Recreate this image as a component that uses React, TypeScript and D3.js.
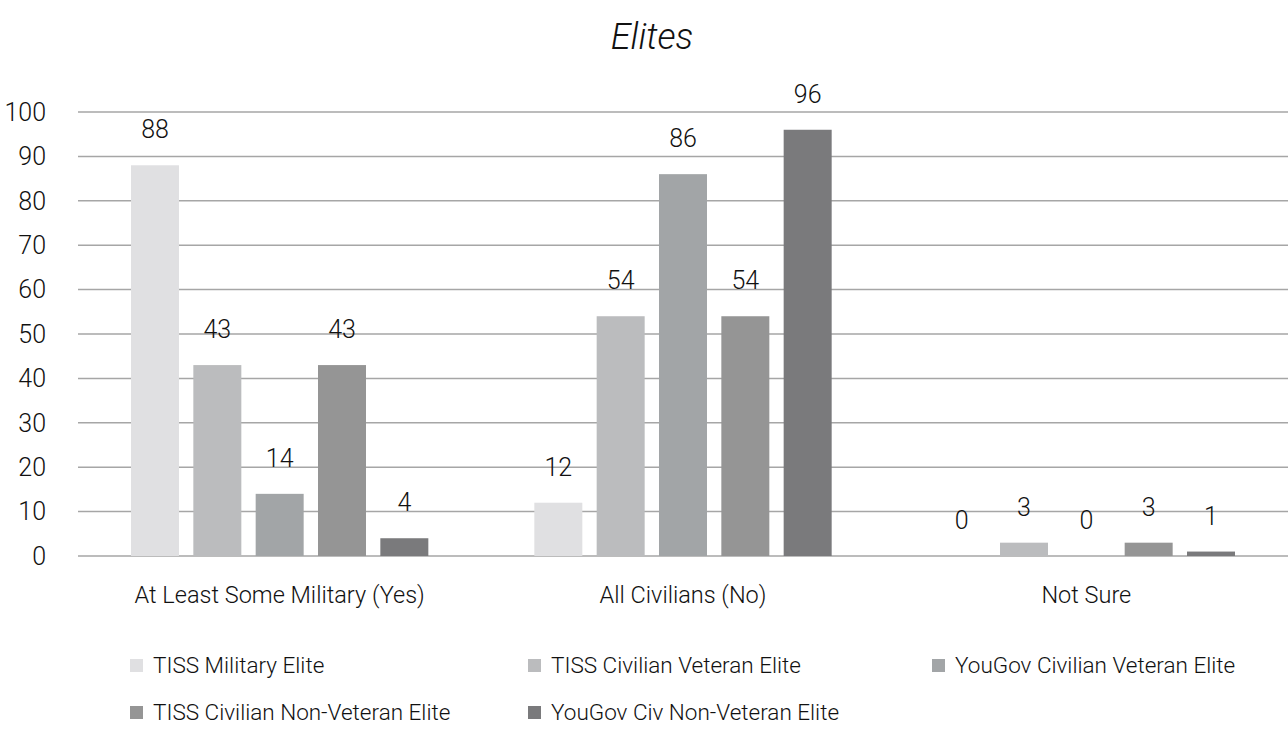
import React from 'react'
import * as d3 from 'd3'

const categories = ['At Least Some Military (Yes)', 'All Civilians (No)', 'Not Sure']
const seriesNames = [
  'TISS Military Elite',
  'TISS Civilian Veteran Elite',
  'YouGov Civilian Veteran Elite',
  'TISS Civilian Non-Veteran Elite',
  'YouGov Civ Non-Veteran Elite',
]
const tissMilitary = [88, 12, 0]
const tissCivVet = [43, 54, 3]
const yougovCivVet = [14, 86, 0]
const tissCivNonVet = [43, 54, 3]
const yougovCivNonVet = [4, 96, 1]
const yTicks = [0, 10, 20, 30, 40, 50, 60, 70, 80, 90, 100]
const colors = ['#e0e0e2', '#bbbcbe', '#a2a5a7', '#959595', '#7a7a7c']

const allSeries = [tissMilitary, tissCivVet, yougovCivVet, tissCivNonVet, yougovCivNonVet]

const W = 1288
const H = 741
const FONT = 'Roboto, "Open Sans", sans-serif'

export default function App() {
  const left = 78
  const right = 1288
  const x = d3.scaleBand().domain(categories).range([left, right]).paddingInner(0).paddingOuter(0)
  const inner = d3
    .scaleBand()
    .domain(seriesNames)
    .range([53, x.bandwidth() - 53])
    .paddingInner(0.23)
    .paddingOuter(0)
  const y = d3.scaleLinear().domain([0, 100]).range([556, 112])

  // legend: [x, y] per entry, three columns then two
  const legendPos = [
    [130, 665],
    [528, 665],
    [932, 665],
    [130, 712],
    [528, 712],
  ]

  return (
    <svg
      width={W}
      height={H}
      style={{ position: 'absolute', left: 0, top: 0, background: '#fff' }}
      fontFamily={FONT}
      fontWeight={300}
    >
      <text x={652} y={49} textAnchor="middle" fontSize={36} fontStyle="italic" fill="#111">
        Elites
      </text>

      {yTicks.map((t) => (
        <g key={t}>
          <line x1={left} x2={right} y1={y(t)} y2={y(t)} stroke="#a6a6a6" strokeWidth={1.5} />
          <text x={46} y={y(t)} dy="0.35em" textAnchor="end" fontSize={25} fill="#111">
            {t}
          </text>
        </g>
      ))}

      {categories.map((c, ci) => (
        <g key={c} transform={`translate(${x(c)},0)`}>
          {seriesNames.map((s, si) => {
            const v = allSeries[si][ci]
            const bx = inner(s) as number
            return (
              <g key={s}>
                <rect
                  x={bx}
                  y={y(v)}
                  width={inner.bandwidth()}
                  height={y(0) - y(v)}
                  fill={colors[si]}
                />
                <text
                  x={bx + inner.bandwidth() / 2}
                  y={y(v) - 27}
                  textAnchor="middle"
                  fontSize={25}
                  fill="#111"
                >
                  {v}
                </text>
              </g>
            )
          })}
          <text x={x.bandwidth() / 2} y={603} textAnchor="middle" fontSize={23.5} fill="#111">
            {c}
          </text>
        </g>
      ))}

      {seriesNames.map((s, i) => (
        <g key={s} transform={`translate(${legendPos[i][0]},${legendPos[i][1]})`}>
          <rect x={0} y={-6} width={13} height={13} fill={colors[i]} />
          <text x={23} y={0} dy="0.35em" fontSize={22.5} fill="#111">
            {s}
          </text>
        </g>
      ))}
    </svg>
  )
}
